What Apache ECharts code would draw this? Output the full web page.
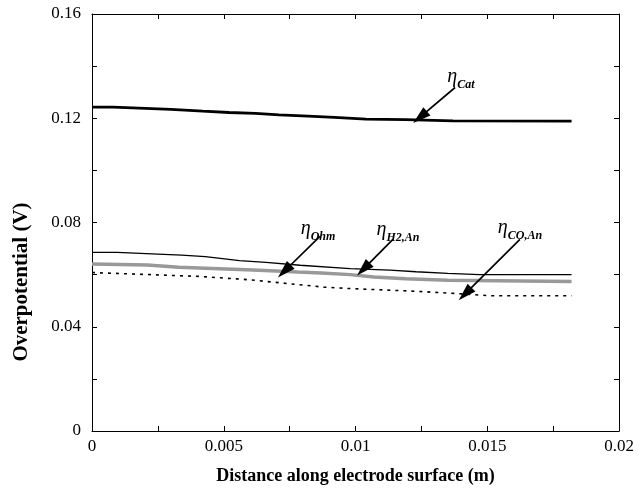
<!DOCTYPE html>
<html>
<head>
<meta charset="utf-8">
<script src="https://cdn.jsdelivr.net/npm/echarts@6/dist/echarts.min.js"></script>
<style>
  html, body { margin: 0; padding: 0; background: #fff; }
  #chart { width: 644px; height: 490px; }
</style>
</head>
<body>
<div id="chart"></div>
<script>
// Overpotential profiles along the electrode surface, x in metres, y in volts
const xCat = [0, 0.0008, 0.0030, 0.0042, 0.0052, 0.0062, 0.0071, 0.0082, 0.0092, 0.0104, 0.0119, 0.0137, 0.0182];
const etaCat = [0.1243, 0.1243, 0.1234, 0.1227, 0.1222, 0.1219, 0.1213, 0.1208, 0.1203, 0.1197, 0.1195, 0.1190, 0.1189];

const xH2 = [0, 0.00095, 0.0025, 0.0034, 0.0043, 0.0056, 0.0066, 0.0079, 0.0098, 0.0113, 0.0123, 0.0135, 0.0147, 0.0182];
const etaH2An = [0.0685, 0.0685, 0.0679, 0.0675, 0.0669, 0.0654, 0.0647, 0.0636, 0.0623, 0.0617, 0.0611, 0.0605, 0.0600, 0.0600];

const xOhm = [0, 0.0021, 0.0033, 0.0061, 0.0072, 0.0078, 0.0087, 0.0098, 0.0107, 0.0119, 0.0135, 0.0182];
const etaOhm = [0.0641, 0.0637, 0.0628, 0.0618, 0.0613, 0.0610, 0.0606, 0.0600, 0.0591, 0.0584, 0.0578, 0.0574];

const xCO = [0, 0.0041, 0.0060, 0.0072, 0.0088, 0.0097, 0.0123, 0.0141, 0.0151, 0.0182];
const etaCOAn = [0.0608, 0.0593, 0.0580, 0.0568, 0.0552, 0.0547, 0.0536, 0.0526, 0.0519, 0.0519];

// Axis ticks
const xTicks = [0, 0.005, 0.01, 0.015, 0.02];
const yTicks = [0, 0.04, 0.08, 0.12, 0.16];

// Callout labels: subscript, label centre, arrow tail, arrow tip (data units)
const calloutSubs = ['Cat', 'Ohm', 'H2,An', 'CO,An'];
const calloutText = [[0.01400, 0.1362], [0.00858, 0.0781], [0.01161, 0.0777], [0.01624, 0.0785]];
const calloutTail = [[0.01378, 0.1318], [0.00865, 0.0747], [0.01142, 0.0735], [0.01624, 0.0735]];
const calloutTip = [[0.01245, 0.1204], [0.00730, 0.0613], [0.01030, 0.0621], [0.01416, 0.0526]];

const serif = 'Liberation Serif';
const pair = (xs, ys) => xs.map((x, i) => [x, ys[i]]);
const fmt = v => (Math.round(v * 1e6) / 1e6).toString();

const chart = echarts.init(document.getElementById('chart'), null, { renderer: 'canvas' });

const frameAxis = {
  axisLine: { show: true, onZero: false, lineStyle: { color: '#000', width: 1 } },
  axisTick: { show: true, inside: true, length: 5, lineStyle: { color: '#000', width: 1 } },
  minorTick: { show: true, splitNumber: 2, length: 5, lineStyle: { color: '#000', width: 1 } },
  splitLine: { show: false },
  minorSplitLine: { show: false }
};

const xBase = { type: 'value', min: xTicks[0], max: xTicks[xTicks.length - 1], interval: xTicks[1] - xTicks[0] };
const yBase = { type: 'value', min: yTicks[0], max: yTicks[yTicks.length - 1], interval: yTicks[1] - yTicks[0] };

const option = {
  animation: false,
  backgroundColor: '#fff',
  grid: { left: 92, right: 25, top: 14, bottom: 56 },
  xAxis: [
    Object.assign({}, xBase, frameAxis, {
      position: 'bottom',
      name: 'Distance along electrode surface (m)',
      nameLocation: 'middle',
      nameGap: 36,
      nameTextStyle: { fontFamily: serif, fontSize: 18, fontWeight: 'bold', color: '#000' },
      axisLabel: { fontFamily: serif, fontSize: 17, color: '#000', margin: 7, formatter: fmt }
    }),
    Object.assign({}, xBase, frameAxis, { position: 'top', axisLabel: { show: false } })
  ],
  yAxis: [
    Object.assign({}, yBase, frameAxis, {
      position: 'left',
      axisLabel: { fontFamily: serif, fontSize: 17, color: '#000', margin: 11, formatter: fmt }
    }),
    Object.assign({}, yBase, frameAxis, { position: 'right', axisLabel: { show: false } })
  ],
  graphic: [{
    type: 'text',
    x: 22, y: 282,
    rotation: Math.PI / 2,
    style: {
      text: 'Overpotential (V)',
      fontFamily: serif, fontSize: 21, fontWeight: 'bold', fill: '#000',
      align: 'center', verticalAlign: 'middle'
    }
  }],
  series: [
    {
      name: 'ηCat', type: 'line', data: pair(xCat, etaCat), symbol: 'none',
      lineStyle: { color: '#000', width: 2.8 }, z: 3
    },
    {
      name: 'ηH2,An', type: 'line', data: pair(xH2, etaH2An), symbol: 'none',
      lineStyle: { color: '#000', width: 1.3 }, z: 3
    },
    {
      name: 'ηOhm', type: 'line', data: pair(xOhm, etaOhm), symbol: 'none',
      lineStyle: { color: '#999', width: 3.5 }, z: 2
    },
    {
      name: 'ηCO,An', type: 'line', data: pair(xCO, etaCOAn), symbol: 'none',
      lineStyle: { color: '#000', width: 1.6, type: [3, 5] }, z: 3
    },
    {
      // callout arrows and their labels
      name: 'callouts', type: 'line', data: [], symbol: 'none',
      markLine: {
        silent: true,
        symbol: ['none', 'triangle'],
        symbolSize: [11, 18],
        label: { show: false },
        lineStyle: { color: '#000', width: 1.7, type: 'solid' },
        data: calloutTail.map((t, i) => [{ coord: t }, { coord: calloutTip[i] }])
      },
      markPoint: {
        silent: true,
        symbol: 'circle',
        symbolSize: 0,
        label: {
          show: true,
          position: 'inside',
          formatter: p => '{e|η}{s|' + p.name + '}',
          rich: {
            e: { fontFamily: serif, fontStyle: 'italic', fontSize: 20, color: '#000', verticalAlign: 'bottom', lineHeight: 22 },
            s: { fontFamily: serif, fontStyle: 'italic', fontWeight: 'bold', fontSize: 12, color: '#000', verticalAlign: 'bottom', lineHeight: 12, padding: [0, 0, -4, 0] }
          }
        },
        data: calloutText.map((c, i) => ({ name: calloutSubs[i], coord: c }))
      }
    }
  ]
};

chart.setOption(option);
</script>
</body>
</html>
